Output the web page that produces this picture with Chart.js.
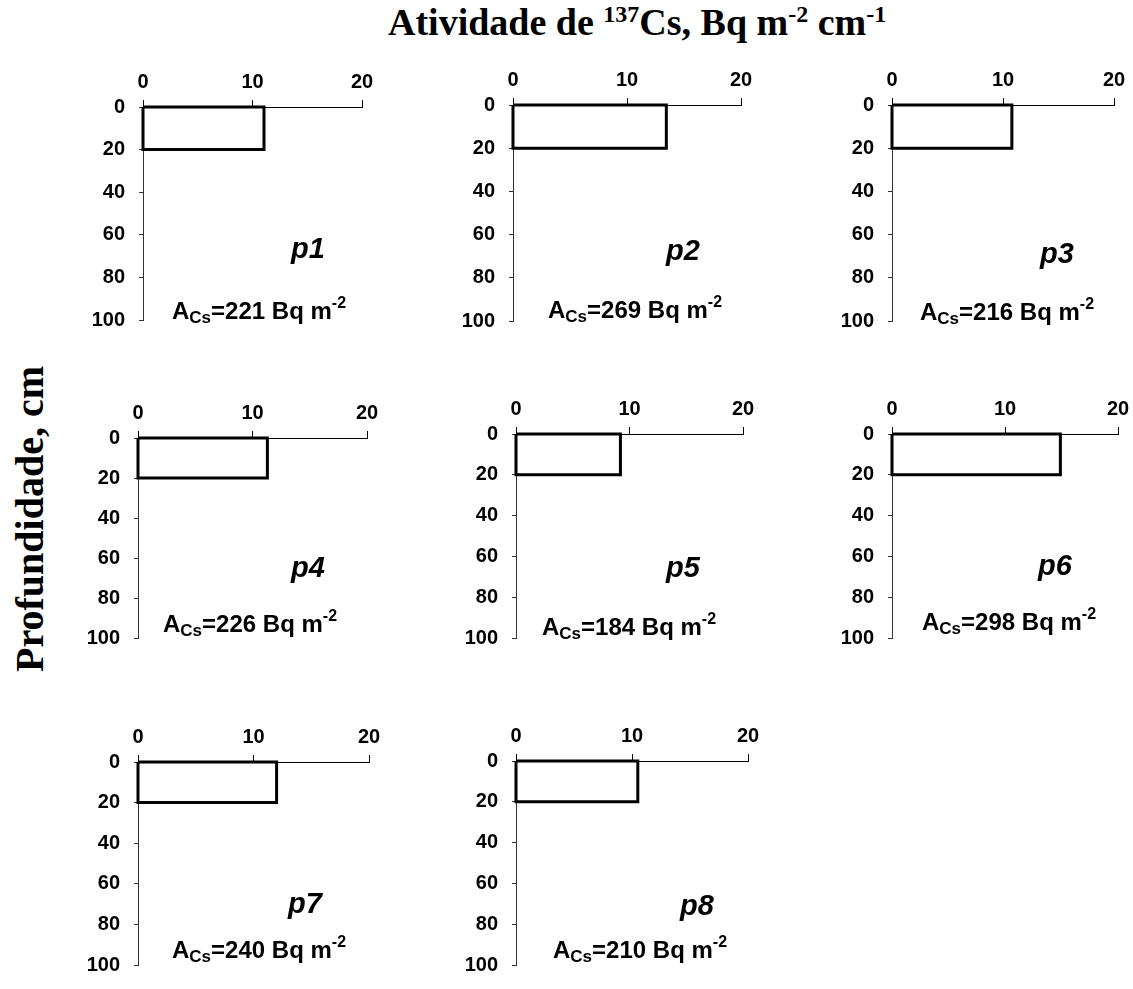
<!DOCTYPE html>
<html>
<head>
<meta charset="utf-8">
<script src="https://cdn.jsdelivr.net/npm/chart.js@4.4.0/dist/chart.umd.min.js"></script>
<style>
    body { margin: 0; background: #fff; }
    #page { position: relative; width: 1133px; height: 989px; overflow: hidden; background: #fff; }
    canvas { position: absolute; }
    .txt { position: absolute; white-space: nowrap; color: #000; }
    .title { font: bold 38px "Liberation Serif", "Times New Roman", serif; line-height: 38px; }
    .ylab { font: bold 40px "Liberation Serif", "Times New Roman", serif; line-height: 40px;
            transform: translate(-50%, -50%) rotate(-90deg); }
    .tsup { font-size: 24px; position: relative; top: -13px; }
    .plab { font: italic bold 29px "Liberation Sans", Arial, sans-serif; line-height: 29px; transform: translate(-50%, -50%); }
    .acs { font: bold 24px "Liberation Sans", Arial, sans-serif; line-height: 24px; }
    .acs .sb { font-size: 17px; position: relative; top: 4px; }
    .acs .sp { font-size: 16px; position: relative; top: -11px; }
</style>
</head>
<body>
<div id="page">
    <div class="txt title" style="left:388px; top:3px;">Atividade de <span class="tsup">137</span>Cs, Bq m<span class="tsup">-2</span> cm<span class="tsup">-1</span></div>
    <div class="txt ylab" style="left:30px; top:519px;">Profundidade, cm</div>
</div>
<script>
// profiles
const panelNames = ['p1', 'p2', 'p3', 'p4', 'p5', 'p6', 'p7', 'p8'];
// 137Cs activity of the 0-20 cm layer, Bq m-2 cm-1
const activity = [11.05, 13.45, 10.8, 11.3, 9.2, 14.9, 12.0, 10.5];
// total inventory written in each panel, Bq m-2
const inventory = [221, 269, 216, 226, 184, 298, 240, 210];
const layerTop = [0, 0, 0, 0, 0, 0, 0, 0];
const layerBottom = [20, 20, 20, 20, 20, 20, 20, 20];
const xTicks = [0, 10, 20];
const yTicks = [0, 20, 40, 60, 80, 100];

// page position of each plot area: x0, x20, y0, y100
const boxes = [
    [143, 362, 107, 332],
    [513, 741, 105, 333],
    [892, 1114, 105, 333],
    [138, 367, 438, 650],
    [516, 743, 434, 650],
    [892, 1118, 434, 650],
    [138, 369, 762, 977],
    [516, 748, 761, 977]
];
// label spots: p-name centre, then A_Cs left/baseline
const labelSpots = [
    [308, 248, 172, 319],
    [683, 250, 548, 318],
    [1057, 253, 920, 320],
    [308, 567, 163, 632],
    [683, 567, 542, 635],
    [1055, 565, 922, 630],
    [305, 903, 172, 958],
    [697, 905, 553, 958]
];

const Y_AXIS_W = 60;
const X_AXIS_H = 45;
const PAD_R = 20;
const PAD_B = 14;

const tickFont = { family: '"Liberation Sans", Arial, sans-serif', size: 20, weight: 'bold' };

function makePanel(i)
{
    const page = document.getElementById('page');
    const b = boxes[i];
    const cv = document.createElement('canvas');
    const w = b[1] - b[0] + Y_AXIS_W + PAD_R;
    const h = b[3] - b[2] + X_AXIS_H + PAD_B;
    cv.width = w;
    cv.height = h;
    cv.style.left = (b[0] - Y_AXIS_W) + 'px';
    cv.style.top = (b[2] - X_AXIS_H) + 'px';
    page.appendChild(cv);

    const v = activity[i];
    const t = layerTop[i];
    const d = layerBottom[i];

    new Chart(cv, {
        type: 'line',
        data: {
            datasets: [{
                data: [{x: 0, y: t}, {x: v, y: t}, {x: v, y: d}, {x: 0, y: d}, {x: 0, y: t}],
                borderColor: '#000',
                borderWidth: 3,
                pointRadius: 0,
                fill: false,
                tension: 0,
                borderJoinStyle: 'miter',
                clip: false
            }]
        },
        options: {
            responsive: false,
            animation: false,
            devicePixelRatio: 1,
            layout: { padding: { left: 0, top: 0, right: PAD_R, bottom: PAD_B } },
            plugins: { legend: { display: false }, tooltip: { enabled: false } },
            scales: {
                x: {
                    type: 'linear',
                    position: 'top',
                    min: 0,
                    max: 20,
                    afterBuildTicks: function (s) { s.ticks = xTicks.map(function (n) { return {value: n}; }); },
                    afterFit: function (s) { s.height = X_AXIS_H; },
                    grid: { drawOnChartArea: false, drawTicks: true, tickLength: 7, color: '#000', lineWidth: 1 },
                    border: { display: true, color: '#000', width: 1 },
                    ticks: { color: '#000', font: tickFont, padding: 6, maxRotation: 0 }
                },
                y: {
                    type: 'linear',
                    position: 'left',
                    reverse: true,
                    min: 0,
                    max: 100,
                    afterBuildTicks: function (s) { s.ticks = yTicks.map(function (n) { return {value: n}; }); },
                    afterFit: function (s) { s.width = Y_AXIS_W; },
                    grid: { drawOnChartArea: false, drawTicks: true, tickLength: 4, color: '#333', lineWidth: 1 },
                    border: { display: true, color: '#333', width: 1 },
                    ticks: { color: '#000', font: tickFont, padding: 14 }
                }
            }
        }
    });

    const s = labelSpots[i];
    const pl = document.createElement('div');
    pl.className = 'txt plab';
    pl.style.left = s[0] + 'px';
    pl.style.top = s[1] + 'px';
    pl.textContent = panelNames[i];
    page.appendChild(pl);

    const ac = document.createElement('div');
    ac.className = 'txt acs';
    ac.style.left = s[2] + 'px';
    ac.style.top = (s[3] - 20) + 'px';
    ac.innerHTML = 'A<span class="sb">Cs</span>=' + inventory[i] + ' Bq m<span class="sp">-2</span>';
    page.appendChild(ac);
}

for (let i = 0; i < panelNames.length; i++)
{
    makePanel(i);
}
</script>
</body>
</html>
